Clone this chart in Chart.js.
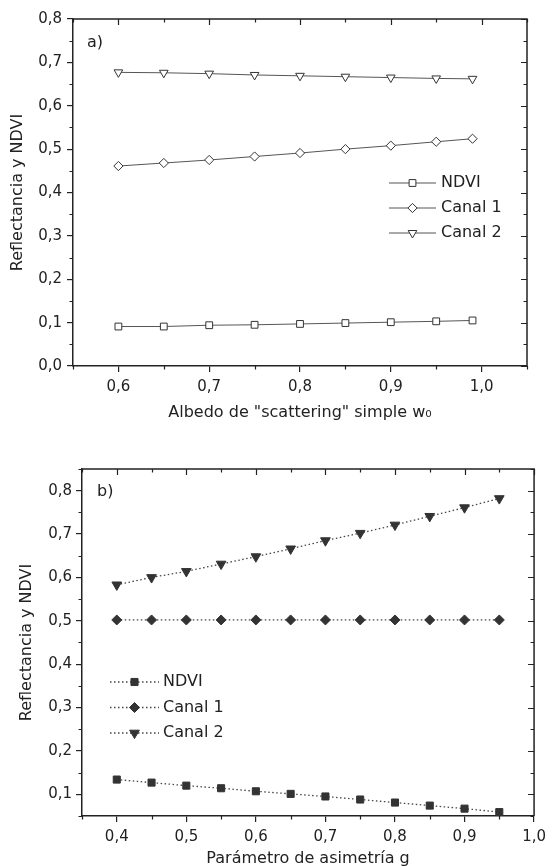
<!DOCTYPE html>
<html>
<head>
<meta charset="utf-8">
<script src="https://cdn.jsdelivr.net/npm/chart.js@4/dist/chart.umd.min.js"></script>
<style>
  html, body { margin: 0; padding: 0; background: #fff; }
  canvas { position: absolute; left: 0; }
  #chartA { top: 0; }
  #chartB { top: 430px; }
</style>
</head>
<body>
<canvas id="chartA" width="552" height="430"></canvas>
<canvas id="chartB" width="552" height="436"></canvas>
<script>
// panel a) - albedo de scattering simple
const albedo = [0.6, 0.65, 0.7, 0.75, 0.8, 0.85, 0.9, 0.95, 0.99];
const ndviA = [0.091, 0.091, 0.094, 0.095, 0.097, 0.099, 0.101, 0.103, 0.105];
const canal1A = [0.461, 0.468, 0.475, 0.483, 0.491, 0.500, 0.508, 0.517, 0.524];
const canal2A = [0.677, 0.676, 0.674, 0.671, 0.669, 0.667, 0.665, 0.663, 0.662];
const xTicksA = [0.6, 0.7, 0.8, 0.9, 1.0];
const yTicksA = [0.0, 0.1, 0.2, 0.3, 0.4, 0.5, 0.6, 0.7, 0.8];

// panel b) - parametro de asimetria
const asimetria = [0.4, 0.45, 0.5, 0.55, 0.6, 0.65, 0.7, 0.75, 0.8, 0.85, 0.9, 0.95];
const ndviB = [0.134, 0.127, 0.120, 0.114, 0.107, 0.101, 0.095, 0.088, 0.081, 0.074, 0.067, 0.059];
const canal1B = [0.502, 0.502, 0.502, 0.502, 0.502, 0.502, 0.502, 0.502, 0.502, 0.502, 0.502, 0.502];
const canal2B = [0.583, 0.600, 0.614, 0.631, 0.648, 0.666, 0.685, 0.702, 0.721, 0.741, 0.761, 0.782];
const xTicksB = [0.4, 0.5, 0.6, 0.7, 0.8, 0.9, 1.0];
const yTicksB = [0.1, 0.2, 0.3, 0.4, 0.5, 0.6, 0.7, 0.8];

const seriesNames = ["NDVI", "Canal 1", "Canal 2"];

const INK = "#222";
Chart.defaults.font.family = "'DejaVu Sans', sans-serif";
Chart.defaults.color = INK;

const fmt = (v) => v.toFixed(1).replace(".", ",");
const pts = (xs, ys) => xs.map((x, i) => ({ x: x, y: ys[i] }));

// frame: top/right border, inward ticks on top/right, minor ticks everywhere
const framePlugin = {
  id: "frame",
  afterDraw(chart, args, opts) {
    const { ctx, chartArea: a, scales } = chart;
    const x = scales.x, y = scales.y;
    const steps = (min, max, st) => {
      const out = [];
      for (let i = Math.round(min / st); i * st <= max + 1e-9; i++) out.push(+(i * st).toFixed(4));
      return out;
    };
    const isMajor = (v, list) => list.some((t) => Math.abs(t - v) < 1e-6);
    ctx.save();
    ctx.strokeStyle = INK;
    ctx.lineWidth = 1.5;
    ctx.beginPath();
    ctx.moveTo(a.left, a.top);
    ctx.lineTo(a.right, a.top);
    ctx.lineTo(a.right, a.bottom);
    ctx.stroke();

    ctx.lineWidth = 1.2;
    ctx.beginPath();
    steps(x.min, x.max, opts.minor).forEach((v) => {
      const px = Math.round(x.getPixelForValue(v)) + 0.5;
      const major = isMajor(v, opts.xMajor);
      const len = major ? 6 : 3.5;
      ctx.moveTo(px, a.top);
      ctx.lineTo(px, a.top + len);
      if (!major) {
        ctx.moveTo(px, a.bottom);
        ctx.lineTo(px, a.bottom + len);
      }
    });
    steps(y.min, y.max, opts.minor).forEach((v) => {
      const py = Math.round(y.getPixelForValue(v)) + 0.5;
      const major = isMajor(v, opts.yMajor);
      const len = major ? 6 : 3.5;
      ctx.moveTo(a.right, py);
      ctx.lineTo(a.right - len, py);
      if (!major) {
        ctx.moveTo(a.left, py);
        ctx.lineTo(a.left - len, py);
      }
    });
    ctx.stroke();

    ctx.fillStyle = INK;
    ctx.font = "16px 'DejaVu Sans'";
    ctx.textBaseline = "middle";
    ctx.fillText(opts.tag, a.left + opts.tagX, a.top + opts.tagY);
    ctx.restore();
  },
};

// legend drawn inside the plot, line - marker - line like the original
const legendPlugin = {
  id: "insideLegend",
  afterDraw(chart, args, opts) {
    const { ctx, chartArea: a } = chart;
    chart.data.datasets.forEach((ds, i) => {
      const x0 = a.left + opts.left;
      const y0 = a.top + opts.top + i * opts.rowH;
      ctx.save();
      ctx.strokeStyle = ds.borderColor;
      ctx.lineWidth = ds.borderWidth;
      ctx.setLineDash(ds.borderDash || []);
      ctx.beginPath();
      ctx.moveTo(x0, y0);
      ctx.lineTo(x0 + opts.lineW, y0);
      ctx.stroke();
      ctx.setLineDash([]);
      ctx.fillStyle = ds.pointBackgroundColor;
      ctx.strokeStyle = ds.pointBorderColor;
      ctx.lineWidth = ds.pointBorderWidth;
      Chart.helpers.drawPoint(ctx, {
        pointStyle: ds.pointStyle,
        rotation: ds.pointRotation || 0,
        radius: ds.pointRadius,
        borderWidth: ds.pointBorderWidth,
      }, x0 + opts.lineW / 2, y0);
      ctx.fillStyle = INK;
      ctx.font = "16px 'DejaVu Sans'";
      ctx.textBaseline = "middle";
      ctx.fillText(ds.label, x0 + opts.lineW + opts.gap, y0);
      ctx.restore();
    });
  },
};

function xAxis(min, max, ticks, title, height, titlePad) {
  return {
    type: "linear",
    min: min,
    max: max,
    afterBuildTicks: (s) => { s.ticks = ticks.map((v) => ({ value: v })); },
    afterFit: (s) => { s.height = height; },
    ticks: { callback: (v) => fmt(v), padding: 6, maxRotation: 0, autoSkip: false, font: { size: 15 }, color: INK },
    grid: { drawOnChartArea: false, drawTicks: true, tickLength: 6, color: INK, lineWidth: 1.2 },
    border: { display: true, color: INK, width: 1.5 },
    title: { display: true, text: title, font: { size: 16 }, color: INK, padding: { top: 0, bottom: titlePad } },
  };
}

function yAxis(min, max, ticks, width, titlePad, labelPad) {
  return {
    type: "linear",
    min: min,
    max: max,
    afterBuildTicks: (s) => { s.ticks = ticks.map((v) => ({ value: v })); },
    afterFit: (s) => { s.width = width; },
    ticks: { callback: (v) => fmt(v), padding: labelPad, autoSkip: false, font: { size: 15 }, color: INK },
    grid: { drawOnChartArea: false, drawTicks: true, tickLength: 6, color: INK, lineWidth: 1.2 },
    border: { display: true, color: INK, width: 1.5 },
    title: { display: true, text: "Reflectancia y NDVI", font: { size: 16 }, color: INK, padding: { top: titlePad, bottom: 0 } },
  };
}

const openStyle = { borderColor: "#555", borderWidth: 1, pointBackgroundColor: "#fff", pointBorderColor: "#333", pointBorderWidth: 1, pointHoverRadius: 0 };
const filledStyle = { borderColor: "#444", borderWidth: 1.3, borderDash: [1.5, 2.5], pointBackgroundColor: "#333", pointBorderColor: "#333", pointBorderWidth: 1, pointHoverRadius: 0 };

new Chart(document.getElementById("chartA"), {
  type: "line",
  data: {
    datasets: [
      { ...openStyle, label: seriesNames[0], data: pts(albedo, ndviA), pointStyle: "rect", pointRadius: 4.8 },
      { ...openStyle, label: seriesNames[1], data: pts(albedo, canal1A), pointStyle: "rectRot", pointRadius: 4.6 },
      { ...openStyle, label: seriesNames[2], data: pts(albedo, canal2A), pointStyle: "triangle", pointRotation: 180, pointRadius: 5 },
    ],
  },
  options: {
    responsive: false,
    animation: false,
    layout: { padding: { top: 19, right: 25, left: 0, bottom: 0 } },
    scales: {
      x: xAxis(0.55, 1.05, xTicksA, 'Albedo de "scattering" simple w\u2080', 64, 8),
      y: yAxis(0, 0.8, yTicksA, 73, 8, 5),
    },
    plugins: {
      legend: { display: false },
      tooltip: { enabled: false },
      frame: { minor: 0.05, xMajor: xTicksA, yMajor: yTicksA, tag: "a)", tagX: 14, tagY: 24 },
      insideLegend: { left: 316, top: 164, rowH: 25, lineW: 47, gap: 5 },
    },
  },
  plugins: [framePlugin, legendPlugin],
});

new Chart(document.getElementById("chartB"), {
  type: "line",
  data: {
    datasets: [
      { ...filledStyle, label: seriesNames[0], data: pts(asimetria, ndviB), pointStyle: "rect", pointRadius: 5 },
      { ...filledStyle, label: seriesNames[1], data: pts(asimetria, canal1B), pointStyle: "rectRot", pointRadius: 5 },
      { ...filledStyle, label: seriesNames[2], data: pts(asimetria, canal2B), pointStyle: "triangle", pointRotation: 180, pointRadius: 5.6 },
    ],
  },
  options: {
    responsive: false,
    animation: false,
    layout: { padding: { top: 39, right: 16, left: 0, bottom: 0 } },
    scales: {
      x: xAxis(0.35, 1.0, xTicksB, "Parámetro de asimetría g", 50, -2),
      y: yAxis(0.05, 0.85, yTicksB, 82, 17, 4),
    },
    plugins: {
      legend: { display: false },
      tooltip: { enabled: false },
      frame: { minor: 0.05, xMajor: xTicksB, yMajor: yTicksB, tag: "b)", tagX: 15, tagY: 23 },
      insideLegend: { left: 28, top: 213, rowH: 25.5, lineW: 49, gap: 4 },
    },
  },
  plugins: [framePlugin, legendPlugin],
});
</script>
</body>
</html>
